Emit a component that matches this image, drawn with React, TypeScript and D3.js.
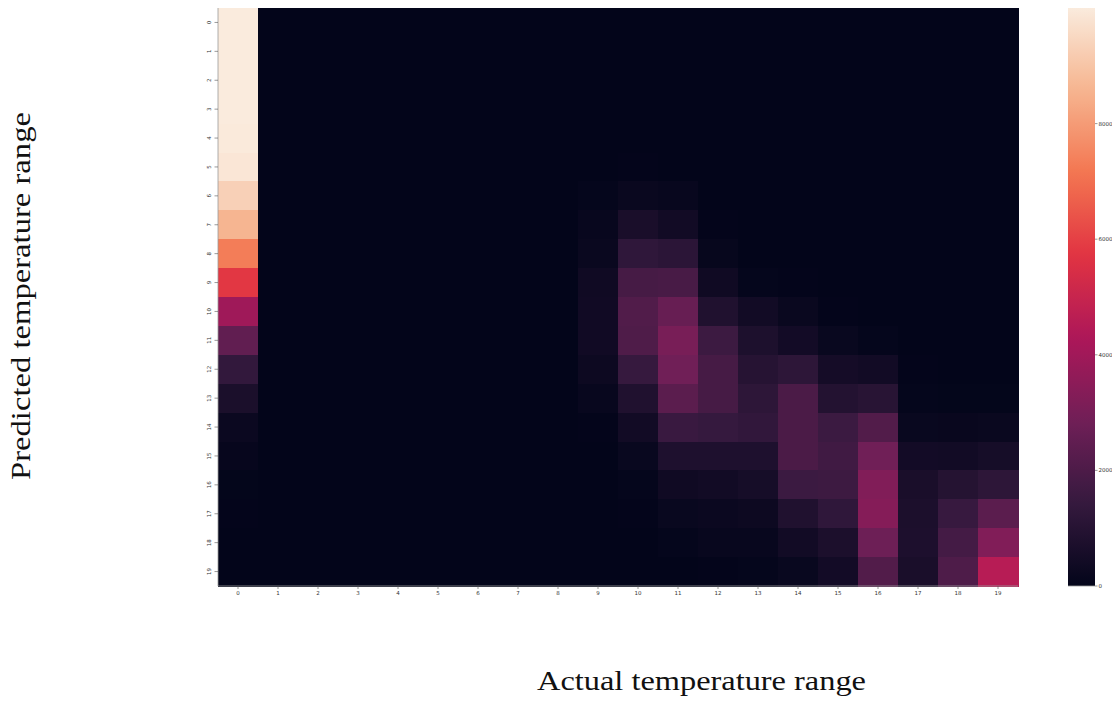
import React, { useEffect } from 'react';
import * as d3 from 'd3';

// predicted (rows) x actual (columns) counts
const labels = d3.range(20).map(String);

const counts: number[][] = [
  [10000, 0, 0, 0, 0, 0, 0, 0, 0, 0, 0, 0, 0, 0, 0, 0, 0, 0, 0, 0],
  [10000, 0, 0, 0, 0, 0, 0, 0, 0, 0, 0, 0, 0, 0, 0, 0, 0, 0, 0, 0],
  [10000, 0, 0, 0, 0, 0, 0, 0, 0, 0, 0, 0, 0, 0, 0, 0, 0, 0, 0, 0],
  [10000, 0, 0, 0, 0, 0, 0, 0, 0, 0, 0, 0, 0, 0, 0, 0, 0, 0, 0, 0],
  [9970, 0, 0, 0, 0, 0, 0, 0, 0, 0, 0, 0, 0, 0, 0, 0, 0, 0, 0, 0],
  [9870, 0, 0, 0, 0, 0, 0, 0, 0, 10, 20, 10, 0, 0, 0, 0, 0, 0, 0, 0],
  [9300, 0, 0, 0, 0, 0, 0, 0, 0, 60, 200, 150, 0, 0, 0, 0, 0, 0, 0, 0],
  [8600, 0, 0, 0, 0, 0, 0, 0, 0, 140, 650, 420, 20, 0, 0, 0, 0, 0, 0, 0],
  [7300, 0, 0, 0, 0, 0, 0, 0, 0, 200, 1250, 1150, 110, 0, 0, 0, 0, 0, 0, 0],
  [5800, 0, 0, 0, 0, 0, 0, 0, 0, 370, 1850, 1900, 370, 70, 30, 0, 0, 0, 0, 0],
  [3950, 0, 0, 0, 0, 0, 0, 0, 0, 390, 2100, 2650, 830, 420, 200, 30, 0, 0, 0, 0],
  [2500, 0, 0, 0, 0, 0, 0, 0, 0, 390, 2050, 3050, 1600, 750, 460, 180, 60, 0, 0, 0],
  [1350, 0, 0, 0, 0, 0, 0, 0, 0, 280, 1450, 2850, 1850, 1000, 1200, 500, 420, 20, 0, 0],
  [680, 0, 0, 0, 0, 0, 0, 0, 0, 140, 830, 2350, 1850, 1200, 1950, 920, 1050, 70, 40, 40],
  [240, 0, 0, 0, 0, 0, 0, 0, 0, 20, 420, 1520, 1430, 1300, 1950, 1580, 2130, 180, 170, 210],
  [100, 0, 0, 0, 0, 0, 0, 0, 0, 0, 180, 780, 780, 780, 1950, 1700, 2850, 460, 440, 550],
  [40, 0, 0, 0, 0, 0, 0, 0, 0, 0, 70, 370, 420, 550, 1580, 1620, 3250, 650, 970, 1200],
  [20, 0, 0, 0, 0, 0, 0, 0, 0, 0, 30, 180, 230, 280, 830, 1250, 3350, 700, 1480, 2350],
  [10, 0, 0, 0, 0, 0, 0, 0, 0, 0, 0, 70, 140, 140, 420, 700, 2780, 740, 1800, 3250],
  [5, 0, 0, 0, 0, 0, 0, 0, 0, 0, 0, 0, 20, 70, 180, 460, 2130, 650, 2030, 4550],
];

const colorbarTicks = [0, 2000, 4000, 6000, 8000];

// seaborn "rocket", sampled at even steps
const rocket = ['#03051a', '#35193e', '#701f57', '#ad1759', '#e13342', '#f37651', '#f6b48f', '#faebdd'];

const W = 1112;
const H = 707;

export default function App() {
  useEffect(() => {
    document.body.style.margin = '0';
  }, []);

  const vmax = 10000;
  const color = d3.scaleSequential(d3.piecewise(d3.interpolateRgb, rocket)).domain([0, vmax]);

  const x = d3.scaleBand().domain(labels).range([218, 1018]);
  const y = d3.scaleBand().domain(labels).range([8, 586]);
  const cb = d3.scaleLinear().domain([0, vmax]).range([586, 8]);
  const cbX = 1068;
  const cbW = 27;

  const cells: { r: number; c: number; v: number }[] = [];
  counts.forEach((row, r) => row.forEach((v, c) => cells.push({ r, c, v })));

  const gradStops = d3.range(0, 1.0001, 0.02);

  return (
    <svg width={W} height={H} style={{ display: 'block', background: '#fff' }}>
      <defs>
        <linearGradient id="cbar" x1="0" y1="1" x2="0" y2="0">
          {gradStops.map(t => (
            <stop key={t} offset={t} stopColor={color(t * vmax)} />
          ))}
        </linearGradient>
      </defs>

      <g shapeRendering="crispEdges">
        {cells.map(d => (
          <rect
            key={`${d.r}-${d.c}`}
            x={x(String(d.c))}
            y={y(String(d.r))}
            width={x.bandwidth() + 0.6}
            height={y.bandwidth() + 0.6}
            fill={color(d.v)}
          />
        ))}
      </g>

      {/* faint axis edges */}
      <line x1={218} x2={218} y1={8} y2={586} stroke="#999" strokeWidth={0.8} />
      <line x1={218} x2={1018} y1={586} y2={586} stroke="#999" strokeWidth={0.8} />

      {/* y ticks */}
      {labels.map(l => {
        const cy = (y(l) as number) + y.bandwidth() / 2;
        return (
          <g key={'y' + l}>
            <line x1={214.5} x2={218} y1={cy} y2={cy} stroke="#555" strokeWidth={0.6} />
            <text
              transform={`translate(211,${cy}) rotate(-90)`}
              textAnchor="middle"
              fontSize={5.5}
              fontFamily="DejaVu Sans"
              fill="#333"
            >
              {l}
            </text>
          </g>
        );
      })}

      {/* x ticks */}
      {labels.map(l => {
        const cx = (x(l) as number) + x.bandwidth() / 2;
        return (
          <g key={'x' + l}>
            <line x1={cx} x2={cx} y1={586} y2={589} stroke="#555" strokeWidth={0.6} />
            <text x={cx} y={594.5} textAnchor="middle" fontSize={5.5} fontFamily="DejaVu Sans" fill="#333">
              {l}
            </text>
          </g>
        );
      })}

      {/* colorbar */}
      <rect x={cbX} y={8} width={cbW} height={578} fill="url(#cbar)" />
      <line x1={cbX} x2={cbX + cbW} y1={586} y2={586} stroke="#999" strokeWidth={0.8} />
      {colorbarTicks.map(t => (
        <g key={'c' + t}>
          <line x1={cbX + cbW} x2={cbX + cbW + 2.5} y1={cb(t)} y2={cb(t)} stroke="#555" strokeWidth={0.6} />
          <text x={cbX + cbW + 3.5} y={cb(t) + 2} fontSize={5.5} fontFamily="DejaVu Sans" fill="#333">
            {t}
          </text>
        </g>
      ))}

      {/* axis titles */}
      <text
        x={701.5}
        y={690}
        textAnchor="middle"
        fontSize={27}
        fontFamily="Liberation Serif"
        textLength={329}
        lengthAdjust="spacingAndGlyphs"
        fill="#111"
      >
        Actual temperature range
      </text>
      <text
        transform={`translate(30,296) rotate(-90)`}
        textAnchor="middle"
        fontSize={27}
        fontFamily="Liberation Serif"
        textLength={368}
        lengthAdjust="spacingAndGlyphs"
        fill="#111"
      >
        Predicted temperature range
      </text>
    </svg>
  );
}
